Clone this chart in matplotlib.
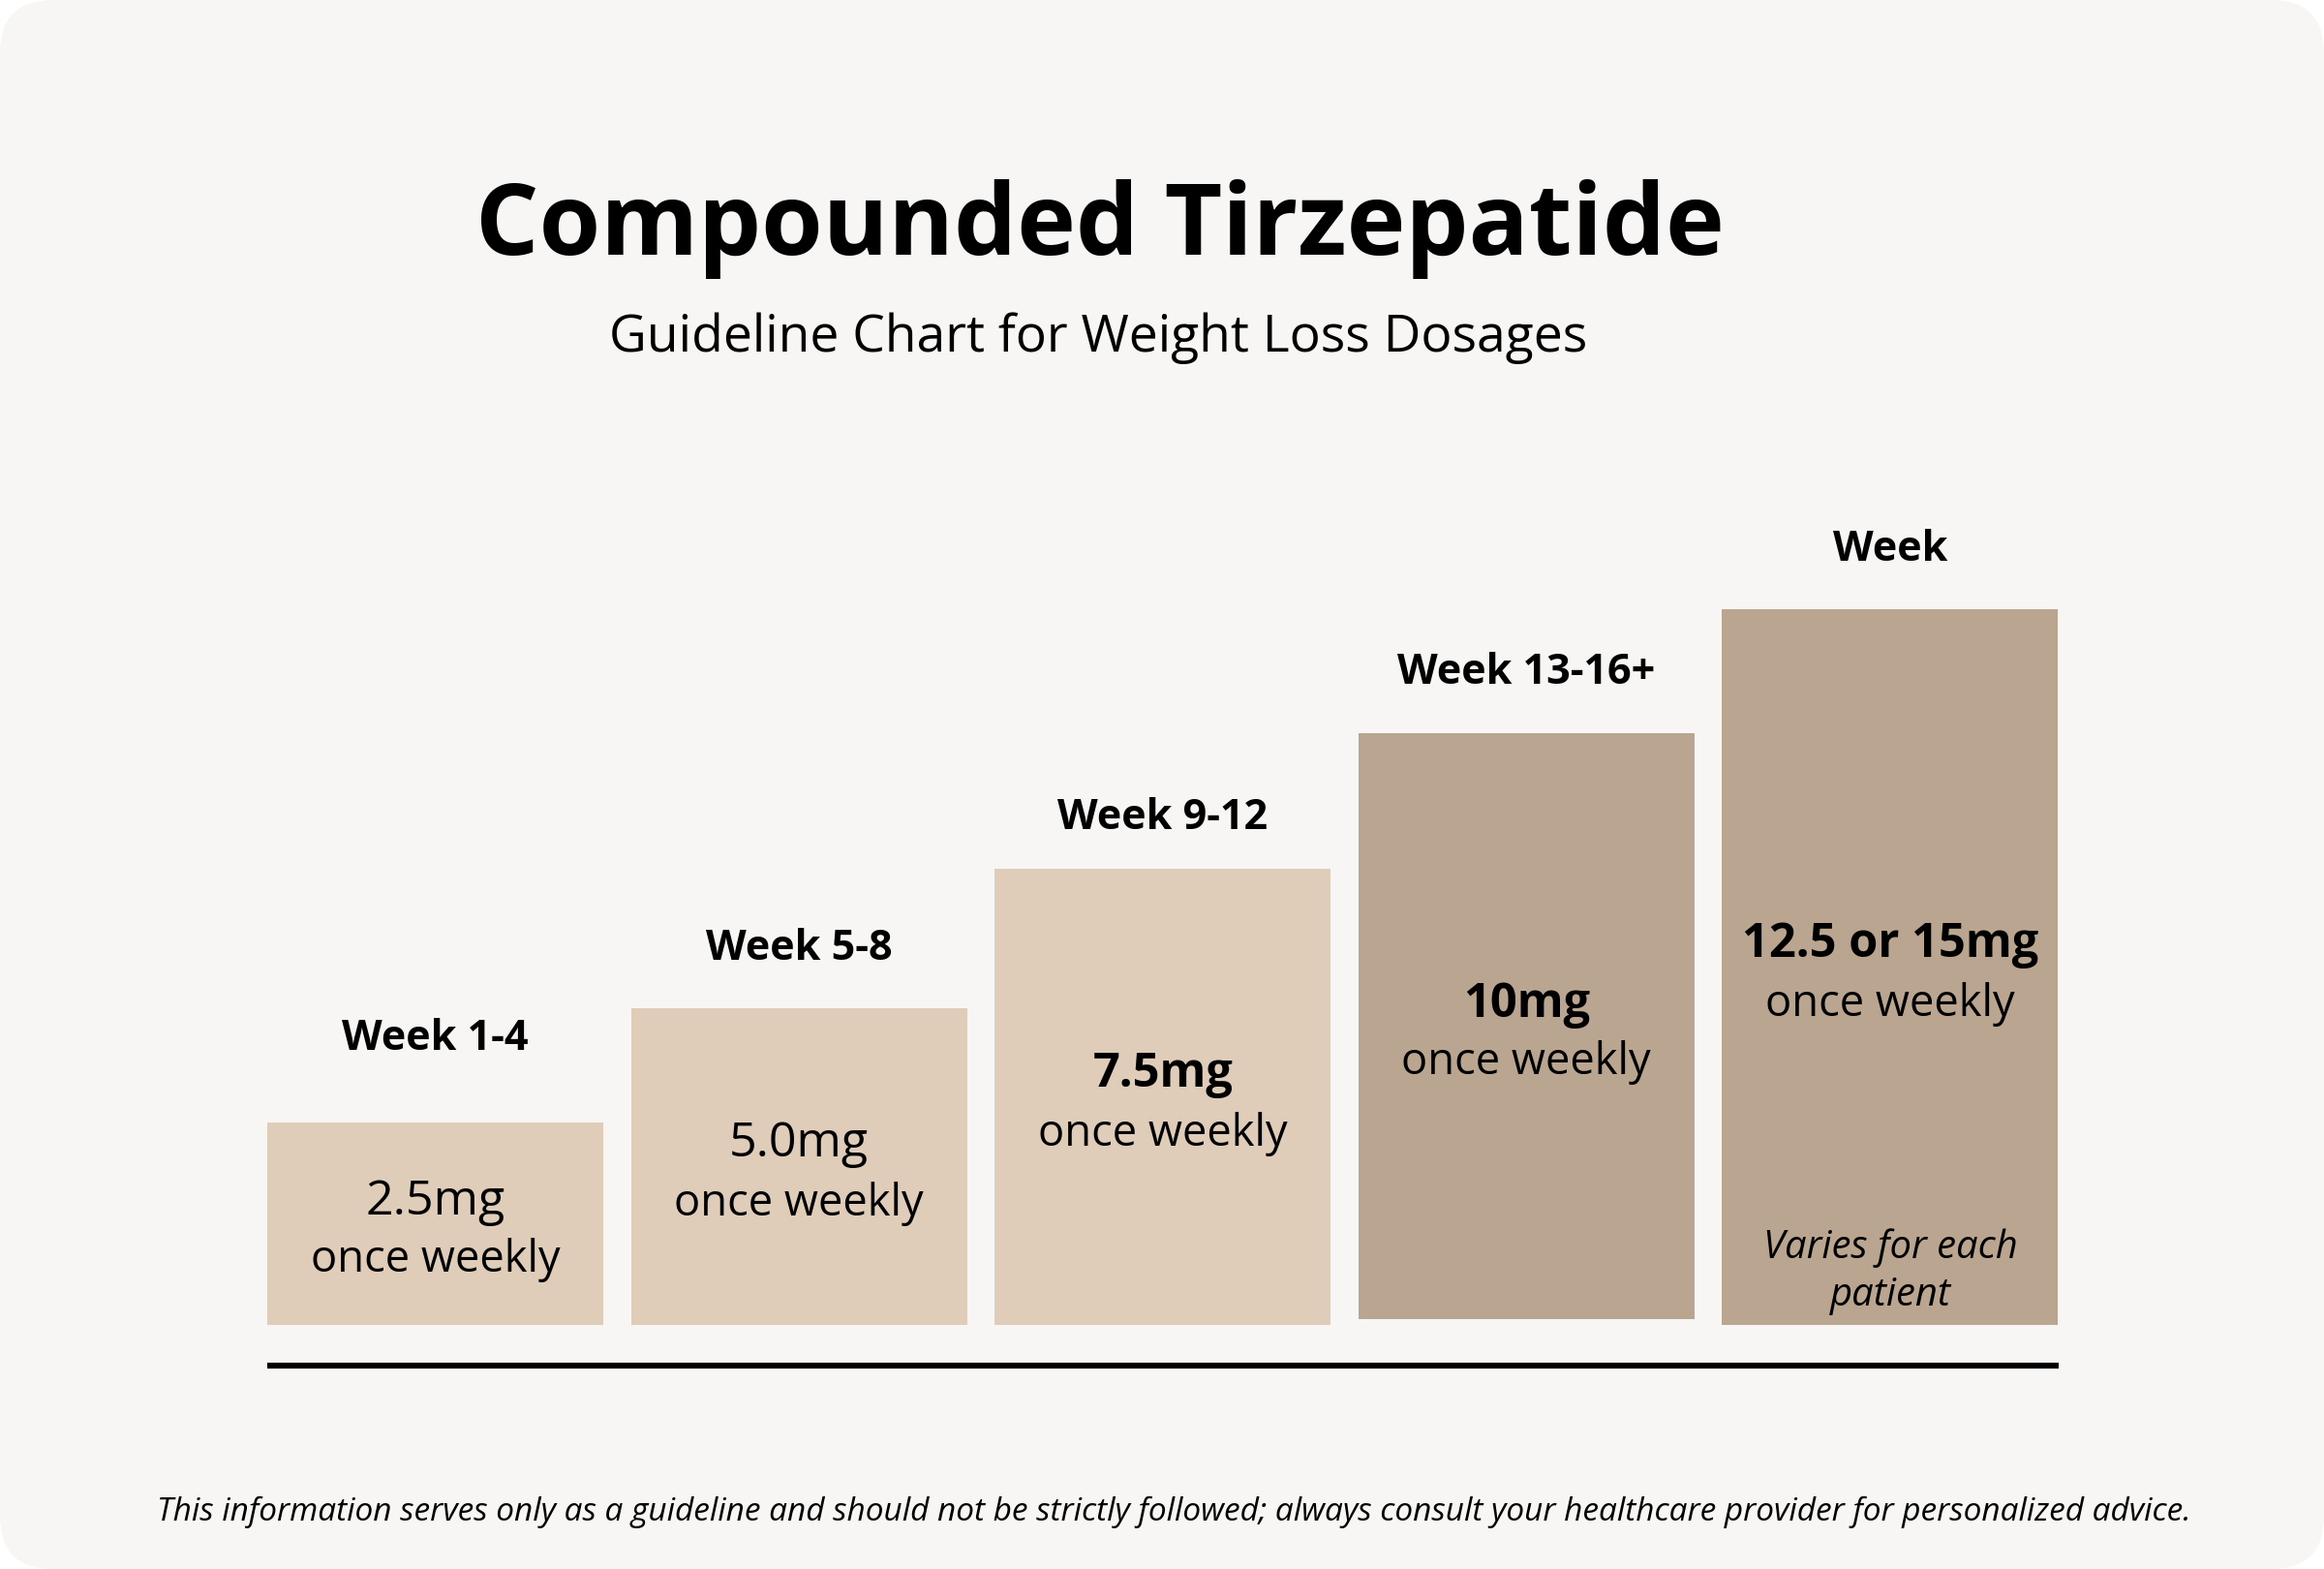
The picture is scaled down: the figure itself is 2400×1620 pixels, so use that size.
import matplotlib.pyplot as plt
from matplotlib.patches import FancyBboxPatch

# chart content
title = "Compounded Tirzepatide"
subtitle = "Guideline Chart for Weight Loss Dosages"
footer = ("This information serves only as a guideline and should not be strictly followed; "
          "always consult your healthcare provider for personalized advice.")

week_labels = ["Week 1-4", "Week 5-8", "Week 9-12", "Week 13-16+", "Week"]
doses = ["2.5mg", "5.0mg", "7.5mg", "10mg", "12.5 or 15mg"]
dose_bold = [False, False, True, True, True]
frequency = "once weekly"
last_note = ["Varies for each", "patient"]

# bar heights / bottoms (pixels)
bar_heights = [209, 327, 471, 605, 739]
bar_bottoms = [252, 252, 252, 258, 252]
bar_colors = ["#DFCDBA", "#DFCDBA", "#DFCDBA", "#BAA591", "#BAA591"]

# layout
W, H = 2400, 1620
bg = "#F7F6F4"
bar_left0, bar_step, bar_w = 276, 375.6, 347
label_gap = [75, 50, 41, 51, 50]
FONT = "Open Sans"

fig = plt.figure(figsize=(W / 100, H / 100), dpi=100, facecolor="white")
ax = fig.add_axes([0, 0, 1, 1])
ax.set_xlim(0, W)
ax.set_ylim(0, H)
ax.axis("off")

card = FancyBboxPatch((0, 0), W, H, boxstyle="round,pad=0,rounding_size=55",
                      fc=bg, ec="none", zorder=0)
ax.add_patch(card)

renderer = fig.canvas.get_renderer()


def size_for(s, width, **kw):
    # font size that makes string s about `width` pixels wide
    t = ax.text(0, 0, s, fontsize=40, **kw)
    w = t.get_window_extent(renderer).width
    t.remove()
    return 40 * width / w


def put(x, y, s, size, **kw):
    ax.text(x, y, s, fontsize=size, ha="center", va="baseline", color="black", zorder=3, **kw)


centers = [bar_left0 + bar_w / 2 + i * bar_step for i in range(len(doses))]
ax.bar(centers, bar_heights, width=bar_w, bottom=bar_bottoms, color=bar_colors, zorder=1)

# axis line under the bars
ax.plot([276, 2126], [210, 210], color="black", lw=4.4, solid_capstyle="butt", zorder=2)

# titles
put(1136, 1357, title, size_for(title, 1288, family=FONT, weight="bold"),
    family=FONT, weight="bold")
put(1134, 1257, subtitle, size_for(subtitle, 1008, family=FONT), family=FONT)

week_size = size_for("Week 13-16+", 266, family=FONT, weight="bold")
reg_size = size_for("2.5mg", 144, family=FONT)
bold_size = size_for("12.5 or 15mg", 306, family=FONT, weight="bold")
freq_size = size_for(frequency, 257, family=FONT)
note_size = size_for(last_note[0], 263, family=FONT, style="italic")

for i, x in enumerate(centers):
    top = bar_bottoms[i] + bar_heights[i]
    mid = bar_bottoms[i] + bar_heights[i] / 2
    put(x, top + label_gap[i], week_labels[i], week_size, family=FONT, weight="bold")
    if dose_bold[i]:
        put(x, mid + 10, doses[i], bold_size, family=FONT, weight="bold")
    else:
        put(x, mid + 10, doses[i], reg_size, family=FONT)
    put(x, mid - 50, frequency, freq_size, family=FONT)

put(centers[-1], bar_bottoms[-1] + 69, last_note[0], note_size, family=FONT, style="italic")
put(centers[-1], bar_bottoms[-1] + 20, last_note[1], note_size, family=FONT, style="italic")

put(1212, 50, footer, size_for(footer, 2097, family=FONT, style="italic"),
    family=FONT, style="italic")

fig.savefig("out.png", dpi=100, facecolor="white")
